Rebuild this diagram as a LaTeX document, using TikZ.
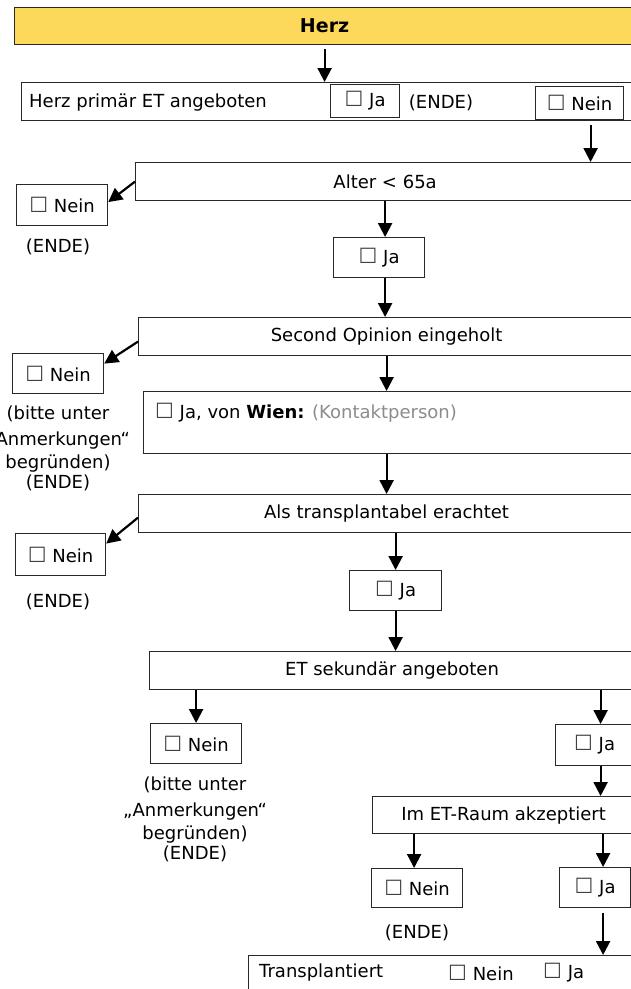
\documentclass[tikz,border=0pt]{standalone}
\usepackage{fontspec}
\setmainfont{DejaVu Sans}
\usetikzlibrary{arrows.meta}
\definecolor{herzgelb}{RGB}{252,217,90}
\definecolor{rahmen}{RGB}{40,40,40}
\definecolor{hinweis}{RGB}{140,140,140}
% check box glyph, set a little larger than the text
\newcommand{\kasten}{{\fontsize{21}{20}\selectfont\color{black!75}☐}}
\begin{document}
\begin{tikzpicture}[x=1pt,y=-1pt,
  txt/.style={font=\fontsize{18}{20}\selectfont, inner sep=0pt},
  box/.style={txt, draw=rahmen, line width=1.2pt, anchor=north west, align=center},
  arr/.style={line width=2.2pt, -{Triangle[width=14pt,length=14pt]}},
  note/.style={txt, align=center, anchor=north, font=\fontsize{18}{23}\selectfont}
]
\clip (0,0) rectangle (631,989);
\fill[white] (0,0) rectangle (631,989);

% title bar
\node[box, fill=herzgelb, minimum width=620, minimum height=37,
      font=\fontsize{19}{20}\selectfont\bfseries] (herz) at (14,7) {Herz};

% primary offer
\node[box, minimum width=613, minimum height=38] (primaer) at (21,82) {};
\node[txt, anchor=west] (primaertext) at (29,103) {Herz primär ET angeboten};
\node[box, minimum width=69, minimum height=33] (primaerja) at (330,84) {\kasten\ Ja};
\node[txt] (primaerende) at (441,103) {(ENDE)};
\node[box, minimum width=88, minimum height=33] (primaernein) at (535,86) {\kasten\ Nein};
\draw[arr, shorten <=4pt] (herz.south) -- (herz.south |- primaer.north);

% age
\node[box, minimum width=499, minimum height=38] (alter) at (135,162) {Alter < 65a};
\draw[arr, shorten <=5pt] ([xshift=11pt]primaernein.south) -- ([xshift=11pt]primaernein.south |- alter.north);
\node[box, minimum width=91, minimum height=41] (alternein) at (16,184) {\kasten\ Nein};
\node[txt] (alterende) at (58,247) {(ENDE)};
\draw[arr] (alter.west) -- ([yshift=3pt]alternein.east);
\node[box, minimum width=91, minimum height=40] (alterja) at (333,237) {\kasten\ Ja};
\draw[arr] (alter.south) -- (alter.south |- alterja.north);

% second opinion
\node[box, minimum width=496, minimum height=38] (so) at (138,317) {Second Opinion eingeholt};
\draw[arr] (alter.south |- alterja.south) -- (alter.south |- so.north);
\node[box, minimum width=91, minimum height=40] (sonein) at (12,353) {\kasten\ Nein};
\draw[arr] ([yshift=-5pt]so.west) -- ([yshift=10pt]sonein.east);
\node[note] (sohinweis) at (58,406) {(bitte unter\\[3pt]„Anmerkungen“\\begründen)\\[-3pt](ENDE)};
\node[box, minimum width=491, minimum height=62] (wien) at (143,391) {};
\node[txt, anchor=west] (wientext) at (155,413) {\kasten\ Ja, von \textbf{Wien:} \textcolor{hinweis}{(Kontaktperson)}};
\draw[arr] (so.south) -- (so.south |- wien.north);

% transplantability
\node[box, minimum width=496, minimum height=38] (als) at (138,494) {Als transplantabel erachtet};
\draw[arr] (so.south |- wien.south) -- (so.south |- als.north);
\node[box, minimum width=90, minimum height=42] (alsnein) at (15,533) {\kasten\ Nein};
\draw[arr] ([yshift=-4pt]als.west) -- ([yshift=11pt]alsnein.east);
\node[txt] (alsende) at (58,602) {(ENDE)};
\node[box, minimum width=92, minimum height=40] (alsja) at (349,570) {\kasten\ Ja};
\draw[arr] (alsja.north |- als.south) -- (alsja.north);

% secondary offer
\node[box, minimum width=485, minimum height=38] (et) at (149,651) {ET sekundär angeboten};
\draw[arr] (alsja.south) -- (alsja.south |- et.north);
\node[box, minimum width=91, minimum height=40] (etnein) at (150,723) {\kasten\ Nein};
\draw[arr] (etnein.north |- et.south) -- (etnein.north);
\node[note] (ethinweis) at (195,777) {(bitte unter\\[3pt]„Anmerkungen“\\begründen)\\[-3pt](ENDE)};
\node[box, minimum width=78, minimum height=41] (etja) at (555,724) {\kasten\ Ja};
\draw[arr] ([xshift=6pt]etja.north |- et.south) -- ([xshift=6pt]etja.north);

% ET room
\node[box, minimum width=262, minimum height=37] (imet) at (372,796) {Im ET-Raum akzeptiert};
\draw[arr] ([xshift=6pt]etja.south) -- ([xshift=6pt]etja.south |- imet.north);
\node[box, minimum width=91, minimum height=39] (imetnein) at (371,868) {\kasten\ Nein};
\draw[arr] ([xshift=-3pt]imetnein.north |- imet.south) -- ([xshift=-3pt]imetnein.north);
\node[txt] (imetende) at (417,933) {(ENDE)};
\node[box, minimum width=71, minimum height=40] (imetja) at (559,867) {\kasten\ Ja};
\draw[arr] ([xshift=8pt]imetja.north |- imet.south) -- ([xshift=8pt]imetja.north);

% transplanted
\node[box, minimum width=392, minimum height=60] (trans) at (248,955) {};
\draw[arr, shorten <=5pt] ([xshift=8pt]imetja.south) -- ([xshift=8pt]imetja.south |- trans.north);
\node[txt, anchor=west] (transtext) at (259,973) {Transplantiert};
\node[txt, anchor=west] (transnein) at (448,973) {\kasten\ Nein};
\node[txt, anchor=west] (transja) at (543,973) {\kasten\ Ja};
\end{tikzpicture}
\end{document}
